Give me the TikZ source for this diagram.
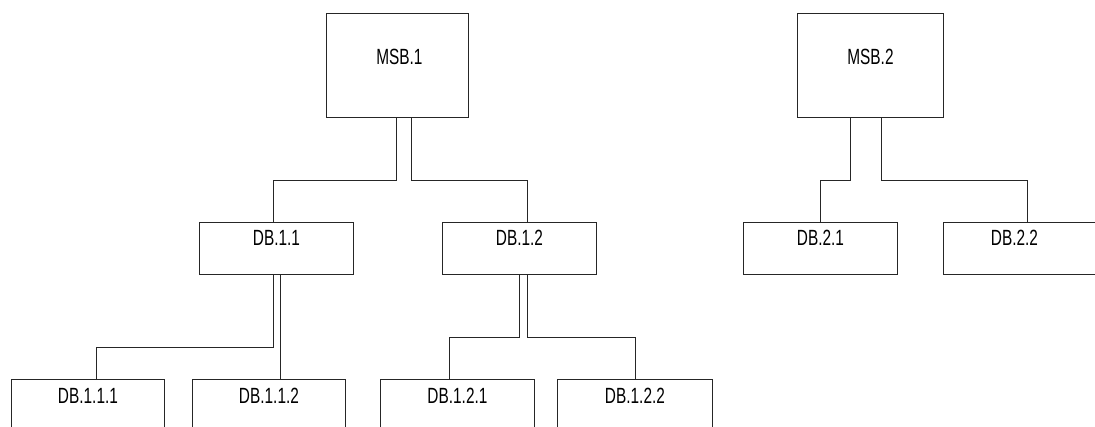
\documentclass[tikz,border=0pt]{standalone}
\usepackage{fontspec}
\newfontfamily\narrowfont[FakeStretch=0.7]{Liberation Sans}
\usetikzlibrary{calc}
\tikzset{
  box/.style={draw=black!85, line width=0.9pt, rectangle, inner sep=0pt, anchor=north west, fill=white},
  msbbox/.style={box, minimum height=104pt},
  dbbox/.style={box, minimum width=154pt, minimum height=52pt},
  lbl/.style={anchor=base, inner sep=0pt, font=\narrowfont\fontsize{22}{24}\selectfont},
  conn/.style={draw=black!85, line width=0.9pt}
}
\begin{document}
\begin{tikzpicture}[x=1pt,y=-1pt]
\clip (0,0) rectangle (1095,427);
\fill[white] (0,0) rectangle (1095,427);
% boxes
\node[msbbox, minimum width=142pt] (msb1) at (326,13) {};
\node[msbbox, minimum width=146pt] (msb2) at (797,13) {};
\node[dbbox] (db11) at (199,222) {};
\node[dbbox] (db12) at (442,222) {};
\node[dbbox] (db21) at (743,222) {};
\node[dbbox] (db22) at (943,222) {};
\node[dbbox, minimum width=153pt] (db111) at (11,379) {};
\node[dbbox, minimum width=153pt] (db112) at (192,379) {};
\node[dbbox] (db121) at (380,379) {};
\node[dbbox, minimum width=155pt] (db122) at (557,379) {};
% labels
\node[lbl] (t1) at ([xshift=2pt,yshift=-52pt]msb1.north) {MSB.1};
\node[lbl] (t2) at ([yshift=-52pt]msb2.north) {MSB.2};
\node[lbl] (t3) at ([yshift=-24pt]db11.north) {DB.1.1};
\node[lbl] (t4) at ([yshift=-24pt]db12.north) {DB.1.2};
\node[lbl] (t5) at ([yshift=-24pt]db21.north) {DB.2.1};
\node[lbl] (t6) at ([xshift=-6pt,yshift=-24pt]db22.north) {DB.2.2};
\node[lbl] (t7) at ([yshift=-24pt]db111.north) {DB.1.1.1};
\node[lbl] (t8) at ([yshift=-24pt]db112.north) {DB.1.1.2};
\node[lbl] (t9) at ([yshift=-24pt]db121.north) {DB.1.2.1};
\node[lbl] (t10) at ([yshift=-24pt]db122.north) {DB.1.2.2};
% connectors
\draw[conn] ([xshift=-1pt]msb1.south) -- ++(0,63) -| ([xshift=-3pt]db11.north);
\draw[conn] ([xshift=14pt]msb1.south) -- ++(0,63) -| ([xshift=8pt]db12.north);
\draw[conn] ([xshift=-3pt]db11.south) -- ++(0,73) -| ([xshift=8.5pt]db111.north);
\draw[conn] ([xshift=4pt]db11.south) -- ([xshift=4pt]db11.south |- db112.north);
\draw[conn] (db12.south) -- ++(0,63) -| ([xshift=-8pt]db121.north);
\draw[conn] ([xshift=8pt]db12.south) -- ++(0,63) -| (db122.north);
\draw[conn] ([xshift=-20pt]msb2.south) -- ++(0,63) -| (db21.north);
\draw[conn] ([xshift=11pt]msb2.south) -- ++(0,63) -| ([xshift=7pt]db22.north);
\end{tikzpicture}
\end{document}
